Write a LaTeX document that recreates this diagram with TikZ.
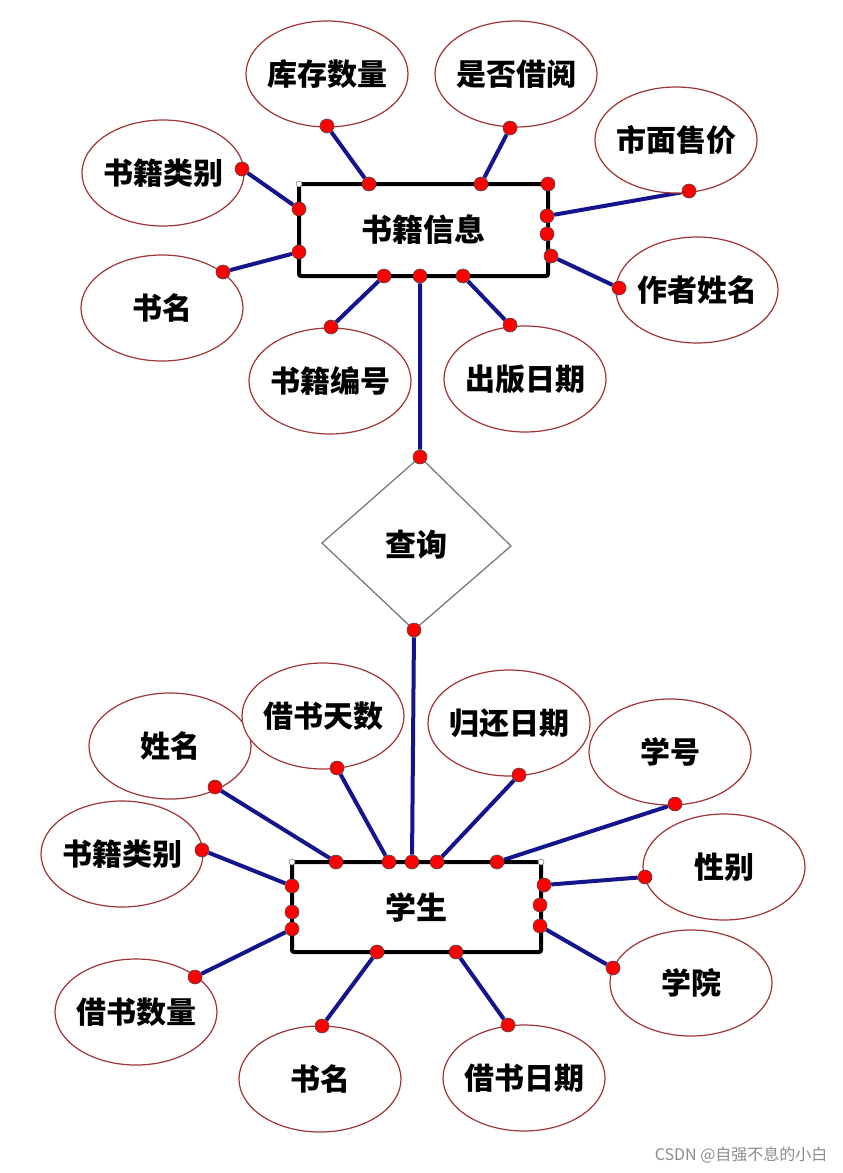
\documentclass[tikz,border=0pt]{standalone}
\usepackage{fontspec}
\setmainfont{Noto Sans CJK SC}
\usetikzlibrary{shapes.geometric}
\pgfdeclarelayer{background}
\pgfsetlayers{background,main}
\definecolor{ered}{HTML}{A03434}
\definecolor{lblue}{HTML}{14148C}
\begin{document}
\begin{tikzpicture}[x=1pt,y=-1pt,
  attr/.style={ellipse, draw=ered, line width=1.2pt, fill=white, minimum width=162, minimum height=106, inner sep=-5pt, font=\fontsize{30}{32}\selectfont\bfseries},
  entity/.style={draw=black, line width=4pt, rounded corners=2pt, fill=white, inner sep=0pt, font=\fontsize{31}{32}\selectfont\bfseries},
  conn/.style={draw=lblue, line width=4pt},
  dot/.style={circle, fill=red, draw=black!70, line width=0.6pt, minimum size=14, inner sep=0pt},
  corner/.style={circle, fill=white, draw=black!50, line width=0.6pt, minimum size=6, inner sep=0pt},
  rel/.style={draw=black!55, line width=1.2pt, fill=white}]
\useasboundingbox (0,0) rectangle (843,1173);

% ---- top entity attributes ----
\node[attr] (kc) at (327,74) {库存数量};
\node[attr] (sf) at (516,74) {是否借阅};
\node[attr] (sm) at (676,140) {市面售价};
\node[attr] (lb) at (163,173) {书籍类别};
\node[attr] (sm1) at (162,308) {书名};
\node[attr] (bh) at (330,381) {书籍编号};
\node[attr] (cb) at (525,379) {出版日期};
\node[attr] (zz) at (697,290) {作者姓名};

\node[entity, minimum width=249, minimum height=92] (book) at (423.5,230) {书籍信息};

% ---- relationship ----
\coordinate (dt) at (420,457);
\coordinate (dl) at (322,543);
\coordinate (dr) at (511,546);
\coordinate (db) at (414,630);
\draw[rel] (dt) -- (dr) -- (db) -- (dl) -- cycle;
\node[font=\fontsize{31}{32}\selectfont\bfseries] (cx) at (416,545) {查询};

% ---- bottom entity attributes ----
\node[attr] (xm) at (170,746) {姓名};
\node[attr] (ts) at (323,716) {借书天数};
\node[attr] (gh) at (509,723) {归还日期};
\node[attr] (xh) at (670,752) {学号};
\node[attr] (lb2) at (122,854) {书籍类别};
\node[attr] (xb) at (724,867) {性别};
\node[attr] (sl) at (136,1012) {借书数量};
\node[attr] (xy) at (691,983) {学院};
\node[attr] (sm2) at (320,1079) {书名};
\node[attr] (jr) at (524,1078) {借书日期};

\node[entity, minimum width=249, minimum height=90] (stu) at (416.5,907) {学生};

% ---- dots: top ----
\node[dot] (b1) at (369,184) {};
\node[dot] (b2) at (481,184) {};
\node[dot] (b3) at (548,184) {};
\node[dot] (b4) at (299,209) {};
\node[dot] (b5) at (299,252) {};
\node[dot] (b6) at (547,216) {};
\node[dot] (b7) at (547,234) {};
\node[dot] (b8) at (551,256) {};
\node[dot] (b9) at (384,276) {};
\node[dot] (b10) at (420,276) {};
\node[dot] (b11) at (463,276) {};
\node[corner] (bc) at (299,184) {};

\node[dot] (kcd) at (327,126) {};
\node[dot] (sfd) at (510,128) {};
\node[dot] (smd) at (689,191) {};
\node[dot] (lbd) at (242,169) {};
\node[dot] (sm1d) at (223,272) {};
\node[dot] (bhd) at (331,327) {};
\node[dot] (cbd) at (510,325) {};
\node[dot] (zzd) at (619,288) {};

\node[dot] (dtd) at (dt) {};
\node[dot] (dbd) at (db) {};

% ---- dots: bottom ----
\node[dot] (s1) at (336,862) {};
\node[dot] (s2) at (389,862) {};
\node[dot] (s3) at (412,862) {};
\node[dot] (s4) at (437,862) {};
\node[dot] (s5) at (497,862) {};
\node[dot] (s6) at (292,886) {};
\node[dot] (s7) at (292,912) {};
\node[dot] (s8) at (292,929) {};
\node[dot] (s9) at (544,885) {};
\node[dot] (s10) at (540,905) {};
\node[dot] (s11) at (540,926) {};
\node[dot] (s12) at (377,952) {};
\node[dot] (s13) at (456,952) {};
\node[corner] (sc1) at (292,862) {};
\node[corner] (sc2) at (541,862) {};

\node[dot] (xmd) at (215,787) {};
\node[dot] (tsd) at (337,768) {};
\node[dot] (ghd) at (519,775) {};
\node[dot] (xhd) at (675,804) {};
\node[dot] (lb2d) at (202,850) {};
\node[dot] (xbd) at (645,877) {};
\node[dot] (sld) at (195,977) {};
\node[dot] (xyd) at (613,968) {};
\node[dot] (sm2d) at (322,1026) {};
\node[dot] (jrd) at (508,1025) {};

% ---- connectors (behind everything) ----
\begin{pgfonlayer}{background}
\fill[white] (0,0) rectangle (843,1173);
\path[conn]
  (kcd) -- (b1)
  (sfd) -- (b2)
  (smd) -- (b6)
  (lbd) -- (b4)
  (sm1d) -- (b5)
  (bhd) -- (b9)
  (cbd) -- (b11)
  (zzd) -- (b8)
  (b10) -- (dtd)
  (dbd) -- (s3)
  (xmd) -- (s1)
  (tsd) -- (s2)
  (ghd) -- (s4)
  (xhd) -- (s5)
  (lb2d) -- (s6)
  (xbd) -- (s9)
  (sld) -- (s8)
  (xyd) -- (s11)
  (sm2d) -- (s12)
  (jrd) -- (s13);
\end{pgfonlayer}

\node[text=black!45, font=\fontsize{16}{18}\selectfont, anchor=east] (wm) at (831,1155) {CSDN @自强不息的小白};
\end{tikzpicture}
\end{document}
